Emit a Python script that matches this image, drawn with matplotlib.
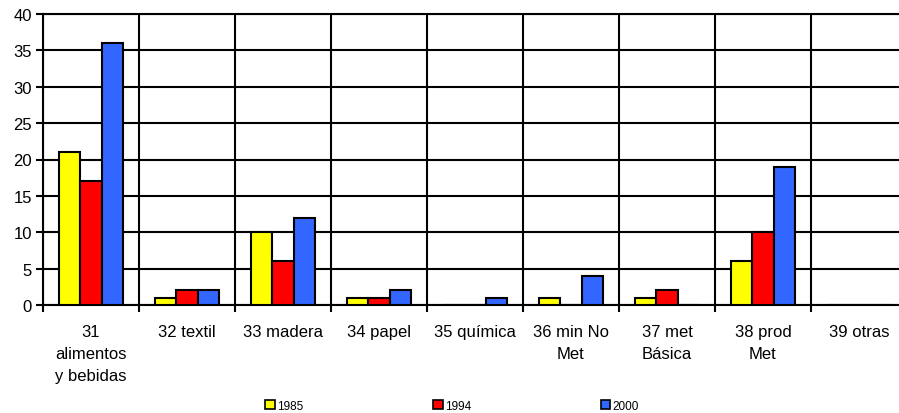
import numpy as np
import matplotlib.pyplot as plt
from matplotlib.patches import Patch

plt.rcParams['font.family'] = ['Liberation Sans', 'DejaVu Sans']

categories = ['31\nalimentos\ny bebidas', '32 textil', '33 madera', '34 papel',
              '35 química', '36 min No\nMet', '37 met\nBásica', '38 prod\nMet',
              '39 otras']
years = ['1985', '1994', '2000']
v1985 = [21, 1, 10, 1, 0, 1, 1, 6, 0]
v1994 = [17, 2, 6, 1, 0, 0, 2, 10, 0]
v2000 = [36, 2, 12, 2, 1, 4, 0, 19, 0]
colors = ['#FFFF00', '#FF0000', '#3366FF']

fig = plt.figure(figsize=(8.99, 4.14), dpi=100)
ax = fig.add_axes([43 / 899, 108 / 414, 864 / 899, 291 / 414])

x = np.arange(len(categories)) + 0.5
w = 0.22
for k, vals in enumerate([v1985, v1994, v2000]):
    ax.bar(x + (k - 1) * w, vals, w, color=colors[k], edgecolor='black',
           linewidth=1.5, zorder=3)

ax.set_xlim(0, 9)
ax.set_ylim(0, 40)
ax.set_yticks(range(0, 41, 5))
ax.set_xticks(range(0, 10))
ax.set_xticklabels([])
ax.set_xticks(x, minor=True)
ax.set_xticklabels(categories, minor=True, linespacing=1.55)
ax.tick_params(axis='x', which='minor', length=0, pad=14, labelsize=12)
ax.tick_params(axis='x', which='major', length=5, width=1.5, direction='out')
ax.tick_params(axis='y', length=5, width=1.5, direction='out', labelsize=12, pad=3)

ax.grid(True, which='major', color='black', linewidth=1.5, zorder=1)
for s in ax.spines.values():
    s.set_linewidth(1.5)
    s.set_color('black')

handles = [Patch(facecolor=c, edgecolor='black', linewidth=1.2) for c in colors]
fig.legend(handles, years, loc='lower center', bbox_to_anchor=(0.503, -0.023),
           ncol=3, frameon=False, fontsize=8.5, handlelength=0.8,
           handleheight=0.8, handletextpad=0.2, columnspacing=11.0)

fig.savefig('out.png', dpi=100)
